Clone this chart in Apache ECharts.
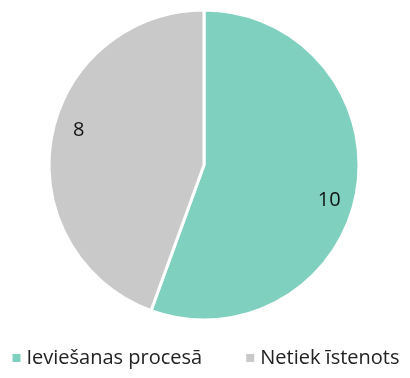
<!DOCTYPE html>
<html><head><meta charset="utf-8">
<script src="https://cdn.jsdelivr.net/npm/echarts@6/dist/echarts.min.js"></script>
<style>html,body{margin:0;padding:0;background:#fff}#c{width:410px;height:378px}</style>
</head><body><div id="c"></div>
<script>
const categories = ['Ieviešanas procesā', 'Netiek īstenots'];
const values = [10, 8];
const colors = ['#80d0c0', '#c9c9c9'];
const data = categories.map((n, i) => ({ name: n, value: values[i], itemStyle: { color: colors[i] } }));
const chart = echarts.init(document.getElementById('c'));
chart.setOption({
  animation: false,
  textStyle: { fontFamily: 'Open Sans' },
  legend: {
    bottom: 5, left: 'center', itemWidth: 10, itemHeight: 10, itemGap: 42, icon: 'rect',
    textStyle: { fontSize: 20, color: '#222', fontFamily: 'Open Sans' },
    data: categories
  },
  series: [
    {
      type: 'pie', center: [204, 165], radius: [0, 155], startAngle: 90, clockwise: true,
      label: { show: false }, labelLine: { show: false },
      itemStyle: { borderColor: '#fff', borderWidth: 3 },
      data: data
    },
    {
      type: 'pie', center: [204, 165], radius: [96, 158], startAngle: 84.4, clockwise: true, silent: true,
      legendHoverLink: false,
      itemStyle: { color: 'rgba(0,0,0,0)' },
      label: { show: true, position: 'inside', formatter: '{c}', fontSize: 20, color: '#111', fontFamily: 'Open Sans' },
      labelLine: { show: false },
      data: categories.map((n, i) => ({ name: n + ' ', value: values[i] }))
    }
  ]
});
</script></body></html>
